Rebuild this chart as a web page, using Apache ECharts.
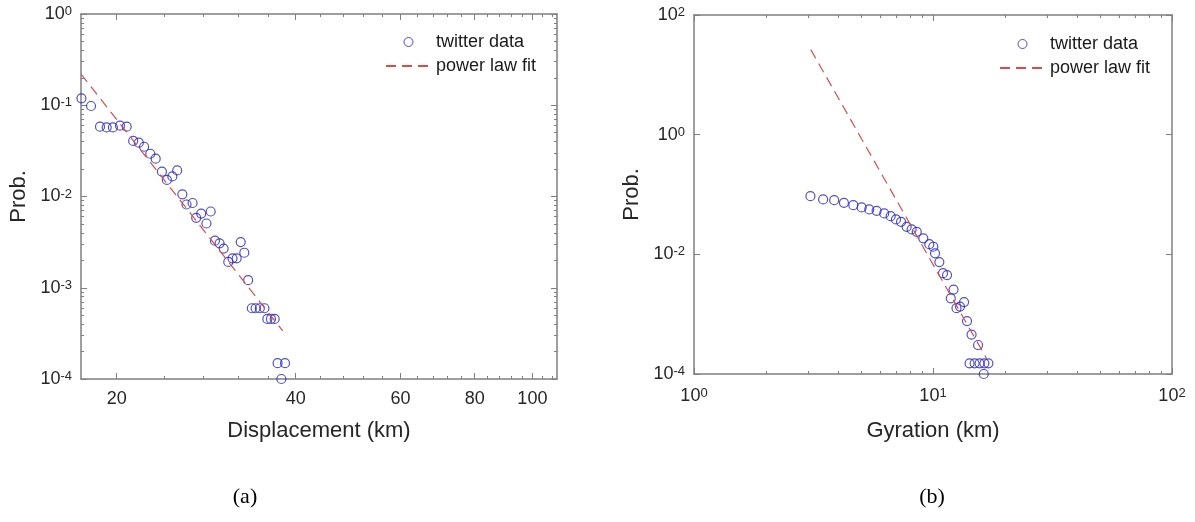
<!DOCTYPE html>
<html>
<head>
<meta charset="utf-8">
<script src="https://cdn.jsdelivr.net/npm/echarts@6.0.0/dist/echarts.min.js"></script>
<style>
html, body { margin: 0; padding: 0; background: #fff; }
#main { width: 1195px; height: 522px; }
</style>
</head>
<body>
<div id="main"></div>
<script>
// (a) displacement distribution
var dispX = [17.45, 18.11, 18.75, 19.24, 19.71, 20.26, 20.79, 21.32, 21.79, 22.24, 22.78, 23.26, 23.83, 24.29,
             24.81, 25.28, 25.79, 26.21, 26.83, 27.21, 27.74, 28.31, 28.78, 29.26, 29.79, 30.26, 30.81, 31.32,
             31.83, 32.33, 32.78, 33.27, 33.75, 34.25, 34.81, 35.44, 35.84, 36.34, 36.87, 37.29, 38.38, 37.84];
var dispY = [0.119, 0.0981, 0.0582, 0.0571, 0.0571, 0.0597, 0.0582, 0.0406, 0.0389, 0.0351, 0.0294, 0.0260, 0.0187, 0.0152,
             0.0166, 0.0193, 0.01057, 0.00817, 0.00849, 0.00584, 0.00650, 0.00506, 0.00685, 0.00328, 0.00307, 0.00269, 0.00192, 0.00210,
             0.00210, 0.00317, 0.00242, 0.00121, 0.000596, 0.000596, 0.000596, 0.000596, 0.000455, 0.000455, 0.000455, 0.000149, 0.000149, 0.0001];
var dispFitX = [17.42, 38.04];
var dispFitY = [0.220, 0.000336];

// (b) radius of gyration distribution
var gyrX = [3.07, 3.47, 3.86, 4.24, 4.64, 5.03, 5.41, 5.81, 6.25, 6.65, 7.00, 7.35, 7.76, 8.14, 8.55, 9.11, 9.65, 10.03,
            10.2, 10.63, 11.01, 11.45, 12.19, 11.87, 12.54, 12.97, 13.49, 13.88, 14.50, 15.44, 14.22, 14.93, 15.66, 16.40, 17.05, 16.31];
var gyrY = [0.0938, 0.0826, 0.0804, 0.0725, 0.0664, 0.0608, 0.0562, 0.0533, 0.0483, 0.0435, 0.0383, 0.0349, 0.0288, 0.0261, 0.0238, 0.0185, 0.0148, 0.0134,
            0.0104, 0.00741, 0.00485, 0.00450, 0.00258, 0.00184, 0.00126, 0.00134, 0.00159, 0.000767, 0.000456, 0.000305, 0.000151, 0.000151, 0.000151, 0.000151, 0.000151, 0.0001];
var gyrFitX = [3.08, 16.75];
var gyrFitY = [26.4, 0.000182];

// ticks
var dispTicks = [20, 40, 60, 80, 100];
var dispMinorTicks = [24, 28, 32, 36, 44, 48, 52, 56, 64, 68, 72, 76, 84, 88, 92, 96, 104, 108];
var decadeSteps = [2, 3, 4, 5, 6, 7, 8, 9];
var probDecadesA = [1e-4, 1e-3, 1e-2, 1e-1];
var gyrDecades = [1, 10];

var axisColor = '#7f7f7f';
var textColor = '#262626';
var font = 'Liberation Sans';

function minorOf(decades) {
  var out = [];
  decades.forEach(function (d) { decadeSteps.forEach(function (s) { out.push(d * s); }); });
  return out;
}
function pairs(xs, ys) {
  return xs.map(function (x, i) { return [x, ys[i]]; });
}
function supLabel(v) {
  return '{b|10}{s|' + Math.round(Math.log10(v)) + '}';
}
var supRich = {
  b: { fontSize: 18, fontFamily: font, color: textColor, lineHeight: 18, padding: [5, 0, 0, 0], verticalAlign: 'bottom' },
  s: { fontSize: 13, fontFamily: font, color: textColor, lineHeight: 13, verticalAlign: 'top' }
};

// one log axis; major axes draw the box line, minor ones only short ticks
function axis(grid, pos, min, max, o) {
  o = o || {};
  var a = {
    type: 'log', logBase: 10, gridIndex: grid, position: pos, min: min, max: max,
    axisLine: { show: !o.minor, lineStyle: { color: axisColor, width: 1.5 } },
    axisTick: { show: true, inside: true, length: o.minor ? 3 : 6, lineStyle: { color: axisColor, width: 1 } },
    axisLabel: { show: false },
    splitLine: { show: false }
  };
  if (o.interval) a.interval = o.interval;
  if (o.ticks) a.axisTick.customValues = o.ticks;
  if (o.label) {
    a.axisLabel = { show: true, margin: o.margin || 9, color: textColor, fontFamily: font, fontSize: 18,
                    formatter: o.label === 'sup' ? supLabel : '{value}', rich: supRich };
    if (o.ticks) a.axisLabel.customValues = o.ticks;
  }
  if (o.name) {
    a.name = o.name; a.nameLocation = 'middle'; a.nameGap = o.nameGap;
    a.nameTextStyle = { fontSize: 22, color: textColor, fontFamily: font };
  }
  if (o.hide) a.show = false;
  return a;
}

var dMin = 17.42, dMax = 110;
var xAxes = [
  axis(0, 'bottom', dMin, dMax, { ticks: dispTicks, label: 'plain', margin: 11, name: 'Displacement (km)', nameGap: 41 }),
  axis(0, 'top', dMin, dMax, { ticks: dispTicks }),
  axis(1, 'bottom', dMin, dMax, { minor: true, ticks: dispMinorTicks }),
  axis(1, 'top', dMin, dMax, { minor: true, ticks: dispMinorTicks }),
  axis(2, 'bottom', 1, 100, { interval: 1, label: 'sup', margin: 13, name: 'Gyration (km)', nameGap: 46 }),
  axis(2, 'top', 1, 100, { interval: 1 }),
  axis(3, 'bottom', 1, 100, { minor: true, ticks: minorOf(gyrDecades) }),
  axis(3, 'top', 1, 100, { minor: true, ticks: minorOf(gyrDecades) })
];
var yAxes = [
  axis(0, 'left', 1e-4, 1, { interval: 1, label: 'sup', name: 'Prob.', nameGap: 51 }),
  axis(0, 'right', 1e-4, 1, { interval: 1 }),
  axis(1, 'left', 1e-4, 1, { minor: true, ticks: minorOf(probDecadesA) }),
  axis(1, 'right', 1e-4, 1, { minor: true, ticks: minorOf(probDecadesA) }),
  axis(2, 'left', 1e-4, 100, { interval: 2, label: 'sup', name: 'Prob.', nameGap: 51 }),
  axis(2, 'right', 1e-4, 100, { interval: 2 }),
  axis(3, 'left', 1e-4, 100, { hide: true }),
  axis(3, 'right', 1e-4, 100, { hide: true })
];

var dotStyle = { color: 'transparent', borderColor: '#2424c4', borderWidth: 1.2 };
var fitStyle = { color: '#d94c4c', width: 1.2, type: [10, 6] };
var noDot = { color: 'transparent', opacity: 0 };

var legendBase = {
  orient: 'vertical', itemWidth: 45, itemHeight: 9, itemGap: 6, padding: 0,
  data: [
    { name: 'twitter data', itemStyle: { borderWidth: 1 } },
    { name: 'power law fit', itemStyle: noDot }
  ],
  textStyle: { fontSize: 18, color: '#1a1a1a', fontFamily: font }
};

var option = {
  backgroundColor: '#fff',
  animation: false,
  grid: [
    { left: 81, top: 14, width: 476, height: 365, outerBoundsMode: 'none' },
    { left: 81, top: 14, width: 476, height: 365, outerBoundsMode: 'none' },
    { left: 694, top: 15, width: 478, height: 359, outerBoundsMode: 'none' },
    { left: 694, top: 15, width: 478, height: 359, outerBoundsMode: 'none' }
  ],
  legend: [
    Object.assign({ left: 385, top: 33 }, legendBase),
    Object.assign({ left: 999, top: 35 }, legendBase)
  ],
  xAxis: xAxes,
  yAxis: yAxes,
  series: [
    { name: 'twitter data', type: 'scatter', xAxisIndex: 0, yAxisIndex: 0, symbol: 'circle', symbolSize: 9,
      itemStyle: dotStyle, data: pairs(dispX, dispY) },
    { name: 'power law fit', type: 'line', xAxisIndex: 0, yAxisIndex: 0, symbol: 'none',
      itemStyle: noDot, lineStyle: fitStyle, data: pairs(dispFitX, dispFitY) },
    { name: 'twitter data', type: 'scatter', xAxisIndex: 4, yAxisIndex: 4, symbol: 'circle', symbolSize: 9,
      itemStyle: dotStyle, data: pairs(gyrX, gyrY) },
    { name: 'power law fit', type: 'line', xAxisIndex: 4, yAxisIndex: 4, symbol: 'none',
      itemStyle: noDot, lineStyle: fitStyle, data: pairs(gyrFitX, gyrFitY) }
  ],
  graphic: [
    { type: 'text', x: 245, y: 486, style: { text: '(a)', font: '22px "Liberation Serif"', fill: '#000', align: 'center' } },
    { type: 'text', x: 932, y: 486, style: { text: '(b)', font: '22px "Liberation Serif"', fill: '#000', align: 'center' } }
  ]
};

var chart = echarts.init(document.getElementById('main'));
chart.setOption(option);
</script>
</body>
</html>
